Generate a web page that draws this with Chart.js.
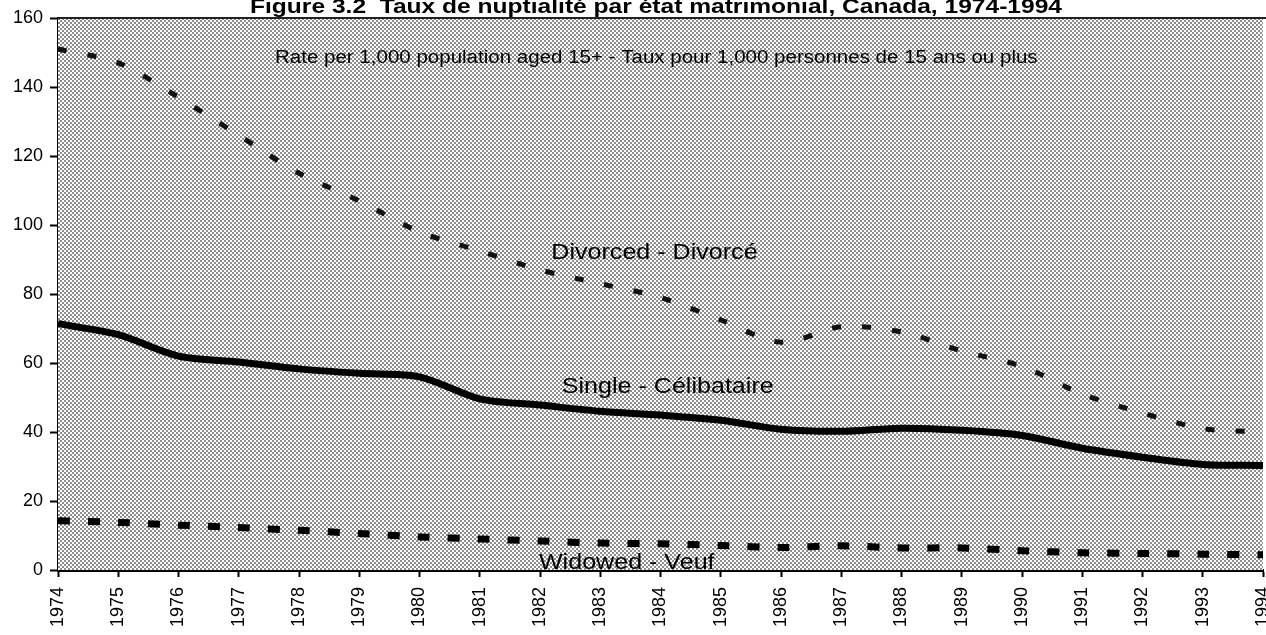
<!DOCTYPE html>
<html>
<head>
<meta charset="utf-8">
<script src="https://cdn.jsdelivr.net/npm/chart.js@4"></script>
<style>
  html, body { margin: 0; padding: 0; background: #fff; }
  #wrap { position: relative; width: 1266px; height: 635px; }
</style>
</head>
<body>
<div id="wrap"><canvas id="nuptChart"></canvas></div>
<script>
const years = ['1974', '1975', '1976', '1977', '1978', '1979', '1980', '1981', '1982', '1983', '1984',
    '1985', '1986', '1987', '1988', '1989', '1990', '1991', '1992', '1993', '1994'];
const divorced = [151, 147, 137, 126, 115, 107, 98, 92.5, 87, 83, 79, 72.5, 66, 70.5, 69, 63.5, 59, 51, 45.5, 41, 40];
const single = [71.4, 68.2, 62, 60.3, 58.3, 57, 56, 49.6, 47.8, 46, 44.9, 43.4, 40.8, 40.2, 41.1, 40.5, 39, 35.3, 32.7, 30.6, 30.3];
const widowed = [14.3, 13.8, 13, 12.3, 11.5, 10.6, 9.6, 9, 8.4, 7.8, 7.6, 7.1, 6.5, 7, 6.4, 6.4, 5.6, 5, 4.8, 4.6, 4.4];
const yTicks = [0, 20, 40, 60, 80, 100, 120, 140, 160];

const chartTitle = 'Figure 3.2  Taux de nuptialité par état matrimonial, Canada, 1974-1994';
// text labels placed in data units: [text, year index, value, font size]
const notes = [
    ['Rate per 1,000 population aged 15+ - Taux pour 1,000 personnes de 15 ans ou plus', 9.93, 148.5, 18],
    ['Divorced - Divorcé', 9.9, 92, 22],
    ['Single - Célibataire', 10.12, 53, 22],
    ['Widowed - Veuf', 9.44, 2, 22]
];
// scanned text is a bit wider than the fonts we have
const STRETCH = 1.14;

const FONT = '"Liberation Sans", Arial, sans-serif';

// halftone grey like the scanned plot background
function makePattern(ctx) {
    const c = document.createElement('canvas');
    c.width = 4; c.height = 4;
    const p = c.getContext('2d');
    p.fillStyle = '#fff';
    p.fillRect(0, 0, 4, 4);
    p.fillStyle = '#8e8e8e';
    p.fillRect(0, 0, 2, 2);
    p.fillRect(2, 2, 2, 2);
    return ctx.createPattern(c, 'repeat');
}

function wideText(ctx, text, x, y, sx) {
    ctx.save();
    ctx.translate(x, y);
    ctx.scale(sx, 1);
    ctx.fillText(text, 0, 0);
    ctx.restore();
}

const backdrop = {
    id: 'backdrop',
    beforeDatasetsDraw(chart) {
        const { ctx, chartArea: a } = chart;
        ctx.save();
        ctx.fillStyle = makePattern(ctx);
        ctx.fillRect(a.left, a.top, a.right - a.left, a.bottom - a.top);
        ctx.strokeStyle = '#222';
        ctx.lineWidth = 2;
        ctx.beginPath();
        ctx.moveTo(a.left, a.top);
        ctx.lineTo(chart.width, a.top);
        ctx.stroke();
        ctx.restore();
    },
    afterDraw(chart) {
        const { ctx, scales } = chart;
        ctx.save();
        ctx.fillStyle = '#000';
        ctx.textAlign = 'center';
        ctx.font = 'bold 21px ' + FONT;
        ctx.textBaseline = 'alphabetic';
        wideText(ctx, chartTitle, 656, 13, 1.17);
        ctx.textBaseline = 'middle';
        notes.forEach(([text, xi, v, size]) => {
            ctx.font = size + 'px ' + FONT;
            wideText(ctx, text, scales.x.getPixelForValue(xi), scales.y.getPixelForValue(v), STRETCH);
        });
        ctx.restore();
    }
};

const ctx = document.getElementById('nuptChart').getContext('2d');

new Chart(ctx, {
    type: 'line',
    data: {
        labels: years,
        datasets: [{
            label: 'Divorced - Divorcé',
            data: divorced,
            borderColor: '#111',
            borderWidth: 5,
            borderDash: [9, 21],
            tension: 0.3
        }, {
            label: 'Single - Célibataire',
            data: single,
            borderColor: '#000',
            borderWidth: 7,
            tension: 0.3
        }, {
            label: 'Widowed - Veuf',
            data: widowed,
            borderColor: '#000',
            borderWidth: 7,
            borderDash: [12, 18],
            tension: 0.3
        }]
    },
    options: {
        responsive: true,
        maintainAspectRatio: false,
        animation: false,
        elements: { point: { radius: 0 } },
        layout: { padding: { top: 18, right: 3, left: 0, bottom: 0 } },
        plugins: {
            legend: { display: false },
            tooltip: { enabled: false }
        },
        scales: {
            x: {
                offset: false,
                border: { color: '#000', width: 3 },
                grid: { drawOnChartArea: false, color: '#000', tickLength: 7, tickWidth: 2 },
                ticks: {
                    color: '#000',
                    font: { family: FONT, size: 18 },
                    minRotation: 90,
                    maxRotation: 90,
                    autoSkip: false,
                    padding: 10
                },
                afterFit(scale) {
                    scale.height = 65;
                    scale.paddingLeft = 0;
                    scale.paddingRight = 0;
                }
            },
            y: {
                min: 0,
                max: 160,
                border: { color: '#000', width: 3 },
                grid: { drawOnChartArea: false, color: '#000', tickLength: 8, tickWidth: 2 },
                afterBuildTicks(scale) {
                    scale.ticks = yTicks.map(v => ({ value: v }));
                },
                ticks: {
                    color: '#000',
                    font: { family: FONT, size: 18 },
                    padding: 7
                },
                afterFit(scale) {
                    scale.width = 58;
                }
            }
        }
    },
    plugins: [backdrop]
});
</script>
</body>
</html>
